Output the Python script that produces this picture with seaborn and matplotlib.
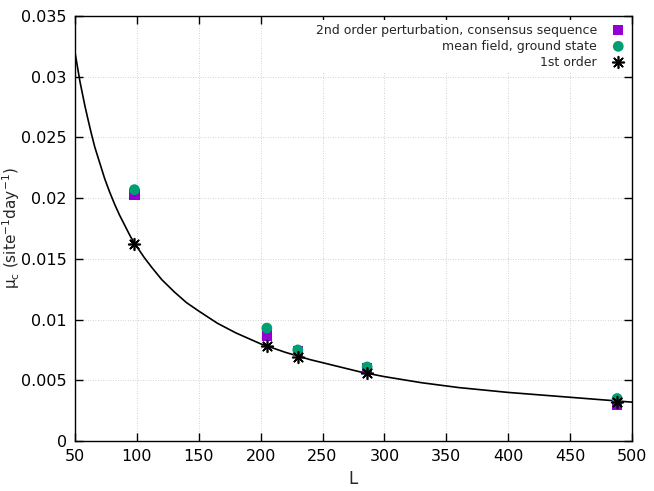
import matplotlib
matplotlib.use("Agg")
import matplotlib.pyplot as plt
import seaborn as sns
import pandas as pd

# Data
L_points = [98, 205, 230, 286, 488]
second_order = [0.0203, 0.0087, 0.0074, 0.0060, 0.0030]
mean_field = [0.0207, 0.0093, 0.0075, 0.0061, 0.0035]
first_order = [0.0162, 0.0078, 0.0069, 0.0056, 0.0032]

curve_L = [50, 52, 54, 56, 58, 60, 63, 66, 70, 74, 78, 82, 86, 90, 95, 100,
           106, 112, 120, 130, 140, 150, 165, 180, 200, 220, 240, 260, 280,
           300, 330, 360, 400, 450, 500]
curve_mu = [0.0320, 0.0308, 0.0296, 0.0286, 0.0276, 0.0267, 0.0254, 0.0242,
            0.0229, 0.0216, 0.0205, 0.0195, 0.0186, 0.0178, 0.0168, 0.0160,
            0.0151, 0.0143, 0.0133, 0.0123, 0.0114, 0.0107, 0.0097, 0.0089,
            0.0080, 0.0073, 0.0067, 0.0062, 0.0057, 0.0053, 0.0048, 0.0044,
            0.0040, 0.0036, 0.0032]

xticks = [50, 100, 150, 200, 250, 300, 350, 400, 450, 500]
yticks = [0, 0.005, 0.01, 0.015, 0.02, 0.025, 0.03, 0.035]
ytick_labels = ["0", "0.005", "0.01", "0.015", "0.02", "0.025", "0.03", "0.035"]

sns.set_style("ticks")
plt.rcParams["font.family"] = ["DejaVu Sans"]

fig = plt.figure(figsize=(6.54, 4.91), dpi=100)
ax = fig.add_axes([75/654, 1-441/491, (632-75)/654, (441-16)/491])

df = pd.DataFrame({"L": L_points, "s": second_order, "m": mean_field, "f": first_order})
cdf = pd.DataFrame({"L": curve_L, "mu": curve_mu})

sns.lineplot(data=cdf, x="L", y="mu", ax=ax, color="black", lw=1.2, sort=True,
             legend=False, zorder=2)
sns.scatterplot(data=df, x="L", y="s", ax=ax, marker="s", color="#9400d3", s=55,
                edgecolor="none", label="2nd order perturbation, consensus sequence", zorder=3)
sns.scatterplot(data=df, x="L", y="m", ax=ax, marker="o", color="#009e73", s=60,
                edgecolor="none", label="mean field, ground state", zorder=4)
sns.scatterplot(data=df, x="L", y="f", ax=ax, marker=(8, 2, 0), color="black", s=70,
                linewidth=1.2, label="1st order", zorder=5)

ax.set_xlim(50, 500)
ax.set_ylim(0, 0.035)
ax.set_xticks(xticks)
ax.set_yticks(yticks)
ax.set_yticklabels(ytick_labels)
ax.tick_params(direction="in", length=6, width=1, labelsize=11.5, top=True, right=True,
               pad=6, colors="black")
ax.grid(True, color="#c4c4c4", linestyle=(0, (1, 2)), linewidth=0.6)
for sp in ax.spines.values():
    sp.set_visible(True)
    sp.set_color("black")
    sp.set_linewidth(1.0)

ax.set_xlabel("L", fontsize=12, labelpad=4)
ax.set_ylabel(r"μ$_\mathrm{c}$ (site$^{\mathrm{-1}}$day$^{\mathrm{-1}}$)", fontsize=11)
ax.yaxis.set_label_coords(-0.096, 0.5)

leg = ax.legend(loc="upper right", markerfirst=False, frameon=True, fontsize=9,
                handletextpad=1.2, labelspacing=0.25, borderaxespad=0.3,
                handlelength=1.0, borderpad=0.3)
leg.get_frame().set_facecolor("white")
leg.get_frame().set_edgecolor("none")
leg.get_frame().set_alpha(1.0)

fig.savefig("out.png", dpi=100)
